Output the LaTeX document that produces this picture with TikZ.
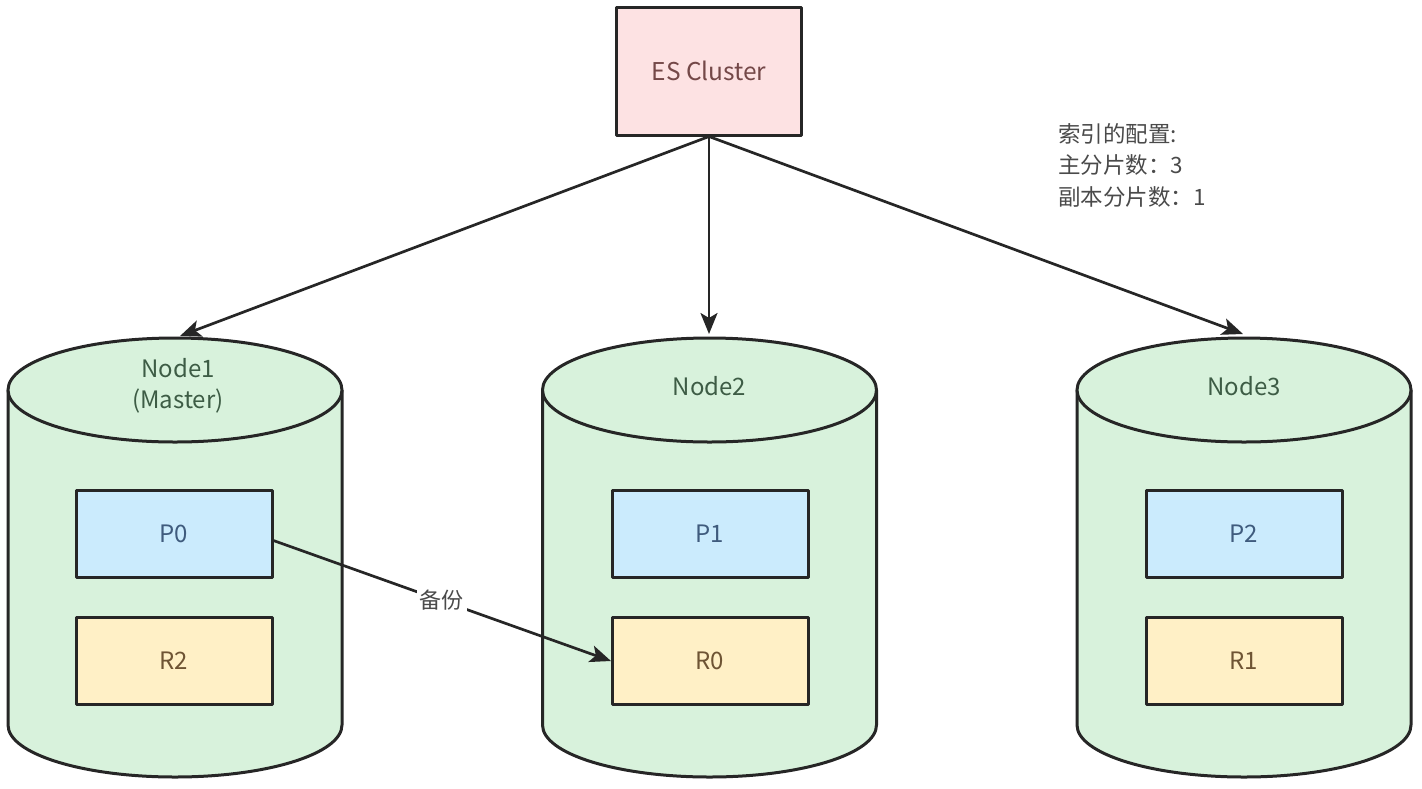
\documentclass[tikz,border=0pt]{standalone}
\usepackage{fontspec}
\setmainfont{Noto Sans CJK SC}
\usetikzlibrary{arrows.meta}
\definecolor{edge}{HTML}{262626}
\definecolor{cylfill}{HTML}{D8F2DC}
\definecolor{pfill}{HTML}{CBEBFD}
\definecolor{rfill}{HTML}{FFF0C6}
\definecolor{esfill}{HTML}{FDE2E3}
\definecolor{estext}{HTML}{744848}
\definecolor{ntext}{HTML}{3D5C45}
\definecolor{ptext}{HTML}{3F5B7D}
\definecolor{rtext}{HTML}{6E5434}
\definecolor{gtext}{HTML}{4A4A4A}
\begin{document}
\begin{tikzpicture}[x=1pt,y=-1pt,line join=round,
  cyl/.style={draw=edge,fill=cylfill,line width=3pt},
  box/.style={draw=edge,line width=3pt,minimum width=196pt,minimum height=87pt,inner sep=0pt,font=\fontsize{24}{28}\selectfont},
  pbox/.style={box,fill=pfill,text=ptext},
  rbox/.style={box,fill=rfill,text=rtext},
  esbox/.style={draw=edge,line width=3pt,fill=esfill,text=estext,minimum width=185pt,minimum height=128pt,inner sep=0pt,font=\fontsize{24.5}{28}\selectfont},
  ntitle/.style={text=ntext,align=center,font=\fontsize{24}{31}\selectfont,inner sep=0pt},
  conn/.style={draw=edge,line width=2.7pt,-{Stealth[length=21pt,width=17pt,inset=5pt]}},
  note/.style={text=gtext,align=left,anchor=north west,inner sep=0pt,font=\fontsize{22.5}{31.5}\selectfont}
]
\useasboundingbox (0,0) rectangle (1422,788);

% cylinders
\foreach \cx in {175,709.5,1244}{
  \path[cyl] (\cx-167,390) -- (\cx-167,725) arc[start angle=180,end angle=0,x radius=167,y radius=52] -- (\cx+167,390) -- cycle;
  \path[cyl] (\cx,390) ellipse[x radius=167,y radius=52];
}

% titles
\node[ntitle] (t1) at (178,386) {Node1\\(Master)};
\node[ntitle] (t2) at (709.5,386) {Node2};
\node[ntitle] (t3) at (1244,386) {Node3};

% shards
\node[pbox] (p0) at (174,533.5) {P0};
\node[rbox] (r2) at (174,660.5) {R2};
\node[pbox] (p1) at (710,533.5) {P1};
\node[rbox] (r0) at (710,660.5) {R0};
\node[pbox] (p2) at (1244,533.5) {P2};
\node[rbox] (r1) at (1244,660.5) {R1};

% cluster
\node[esbox] (es) at (709,71) {ES Cluster};

\coordinate (n1top) at (180,336);
\coordinate (n2top) at (709,334);
\coordinate (n3top) at (1243,334);

\draw[conn] (es.south) -- (n1top);
\draw[conn] (es.south) -- (n2top);
\draw[conn] (es.south) -- (n3top);

\coordinate (p0out) at (272,540);
\coordinate (r0in) at (611,661);
\draw[conn] (p0out) -- node[pos=0.5,fill=white,inner sep=3pt,text=gtext,font=\fontsize{22}{26}\selectfont] (bk) {备份} (r0in);

% note
\node[note] (cfg) at (1058,123) {索引的配置:\\主分片数：3\\副本分片数：1};
\end{tikzpicture}
\end{document}
